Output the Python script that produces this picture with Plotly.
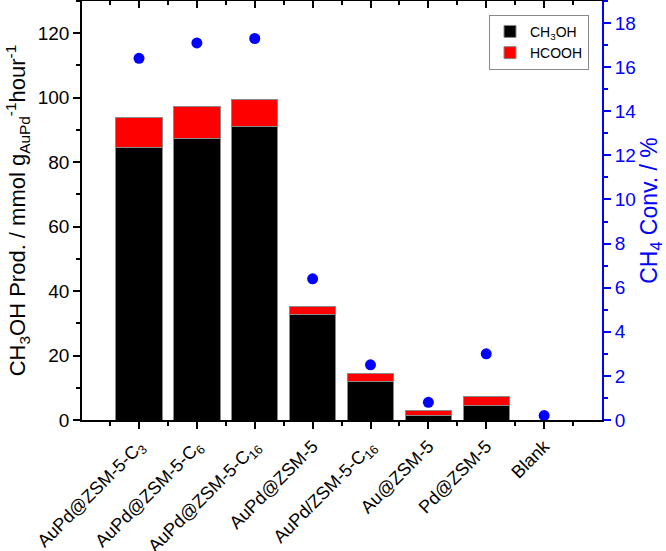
import plotly.graph_objects as go

categories = ["AuPd@ZSM-5-C<sub>3</sub>", "AuPd@ZSM-5-C<sub>6</sub>", "AuPd@ZSM-5-C<sub>16</sub>",
              "AuPd@ZSM-5", "AuPd/ZSM-5-C<sub>16</sub>", "Au@ZSM-5", "Pd@ZSM-5", "Blank"]
ch3oh = [84.5, 87.3, 91.2, 32.7, 12.0, 1.3, 4.6, 0.0]
total = [94.0, 97.4, 99.4, 35.2, 14.3, 3.0, 7.2, 0.0]
hcooh = [t - c for t, c in zip(total, ch3oh)]
conv = [16.4, 17.1, 17.3, 6.4, 2.5, 0.8, 3.0, 0.2]

xpos = list(range(len(categories)))
minor_x = [i + 0.5 for i in range(-1, 8)]
font = "Liberation Sans, Arial, sans-serif"

fig = go.Figure()
fig.add_trace(go.Bar(x=xpos, y=ch3oh, name="CH<sub>3</sub>OH",
                     marker=dict(color="black", line=dict(color="#8a8a8a", width=1)), width=0.8))
fig.add_trace(go.Bar(x=xpos, y=hcooh, name="HCOOH",
                     marker=dict(color="#ff0000", line=dict(color="#8a8a8a", width=1)), width=0.8))
fig.add_trace(go.Scatter(x=xpos, y=conv, mode="markers", yaxis="y2", showlegend=False,
                         marker=dict(color="#0000ff", size=11)))
fig.add_trace(go.Scatter(x=[None], y=[None], xaxis="x2", showlegend=False))

fig.update_layout(
    width=666, height=551,
    margin=dict(l=82, r=64, t=1, b=131),
    barmode="stack",
    plot_bgcolor="white", paper_bgcolor="white",
    font=dict(family=font, size=18, color="black"),
    xaxis=dict(range=[-0.985, 8], tickvals=xpos, ticktext=categories, tickangle=-45,
               showline=True, linecolor="black", linewidth=1.5, ticks="outside", ticklen=7,
               tickwidth=1.5, tickcolor="black", showgrid=False, zeroline=False,
               minor=dict(tickvals=minor_x, ticks="outside", ticklen=4, tickwidth=1.5, tickcolor="black"),
               tickfont=dict(size=18), automargin=False),
    xaxis2=dict(range=[-0.985, 8], overlaying="x", side="top", tickvals=xpos, showticklabels=False,
                showline=True, linecolor="black", linewidth=1.5, ticks="inside", ticklen=7, tickwidth=1.5,
                tickcolor="black", showgrid=False, zeroline=False,
                minor=dict(tickvals=minor_x, ticks="inside", ticklen=4, tickwidth=1.5, tickcolor="black")),
    yaxis=dict(range=[0, 130], dtick=20, showline=True, linecolor="black", linewidth=1.5,
               ticks="outside", ticklen=7, tickwidth=1.5, tickcolor="black", showgrid=False, zeroline=False,
               minor=dict(dtick=10, ticks="outside", ticklen=4, tickwidth=1.5, tickcolor="black"),
               tickfont=dict(size=19), automargin=False,
               title=dict(text="CH<sub>3</sub>OH Prod. / mmol g<sub>AuPd</sub><sup>-1</sup>hour<sup>-1</sup>",
                          font=dict(size=22), standoff=6)),
    yaxis2=dict(range=[0, 19], dtick=2, overlaying="y", side="right", showline=True, linecolor="#0000ff",
                linewidth=2, ticks="outside", ticklen=7, tickwidth=1.5, tickcolor="#0000ff", showgrid=False,
                zeroline=False, tickfont=dict(color="#0000ff", size=19), automargin=False,
                minor=dict(dtick=1, ticks="outside", ticklen=4, tickwidth=1.5, tickcolor="#0000ff"),
                title=dict(text="CH<sub>4</sub> Conv. / %", font=dict(size=23, color="#0000ff"), standoff=6)),
    legend=dict(x=0.975, y=0.967, xanchor="right", yanchor="top", bordercolor="#8a8a8a", borderwidth=1,
                bgcolor="white", font=dict(size=14), traceorder="normal", tracegroupgap=0,
                itemwidth=30),
)

fig.write_html("out.html", config={"displayModeBar": False},
               post_script="document.body.style.margin='0';document.body.style.padding='0';")
